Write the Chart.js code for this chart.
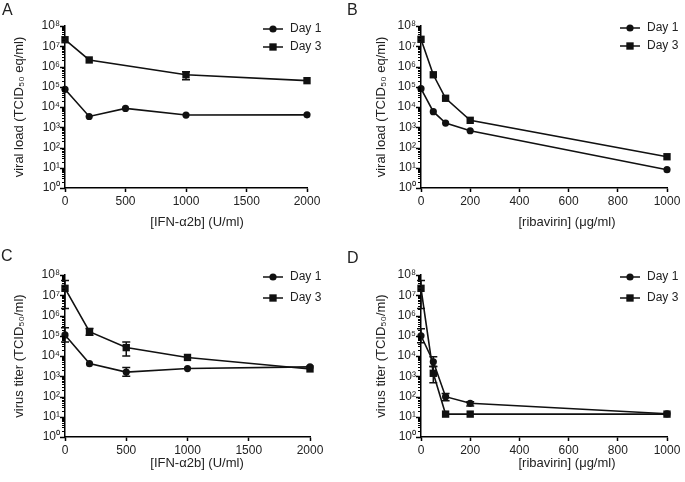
<!DOCTYPE html>
<html>
<head>
<meta charset="utf-8">
<script src="https://cdn.jsdelivr.net/npm/chart.js@4"></script>
<style>
  body { margin: 0; background: #fff; }
  #wrap { position: relative; width: 685px; height: 482px; }
  canvas { position: absolute; }
</style>
</head>
<body>
<div id="wrap">
  <canvas id="panelA" width="342" height="241" style="left:0;top:0"></canvas>
  <canvas id="panelB" width="343" height="241" style="left:342px;top:0"></canvas>
  <canvas id="panelC" width="342" height="241" style="left:0;top:241px"></canvas>
  <canvas id="panelD" width="343" height="241" style="left:342px;top:241px"></canvas>
</div>
<script>
// ---- data ----
const seriesNames = ['Day 1', 'Day 3'];
const yExponents = [0, 1, 2, 3, 4, 5, 6, 7, 8];
const ifnTicks = [0, 500, 1000, 1500, 2000];
const ribTicks = [0, 200, 400, 600, 800, 1000];

// A: viral load, IFN-a2b
const aDay1X = [0, 200, 500, 1000, 2000];
const aDay1Y = [7.5e4, 3.4e3, 8.5e3, 4.0e3, 4.1e3];
const aDay3X = [0, 200, 1000, 2000];
const aDay3Y = [2.1e7, 2.1e6, 3.9e5, 2.0e5];
const aDay3Lo = [null, null, 2.2e5, null];
const aDay3Hi = [null, null, 5.5e5, null];

// B: viral load, ribavirin
const bX = [0, 50, 100, 200, 1000];
const bDay1Y = [8.0e4, 5.9e3, 1.6e3, 6.7e2, 8];
const bDay3Y = [2.2e7, 3.9e5, 2.7e4, 2.2e3, 35];

// C: virus titer, IFN-a2b
const cX = [0, 200, 500, 1000, 2000];
const cDay1Y = [1.1e5, 4.2e3, 1.6e3, 2.4e3, 2.9e3];
const cDay1Lo = [4.9e4, null, 1.0e3, null, null];
const cDay1Hi = [2.5e5, null, 2.7e3, null, null];
const cDay3Y = [2.2e7, 1.6e5, 2.6e4, 8.5e3, 2.3e3];
const cDay3Lo = [2.2e6, 1.05e5, 1.0e4, null, null];
const cDay3Hi = [5.3e7, 2.3e5, 4.9e4, null, null];

// D: virus titer, ribavirin
const dX = [0, 50, 100, 200, 1000];
const dDay1Y = [1.0e5, 5.2e3, 98, 46, 14];
const dDay1Lo = [4.5e4, 3.0e3, 62, 34, null];
const dDay1Hi = [2.2e5, 9.3e3, 140, 55, null];
const dDay3Y = [2.2e7, 1.4e3, 13.5, 13.5, 13.5];
const dDay3Lo = [2.2e6, 4.8e2, null, null, null];
const dDay3Hi = [5.3e7, 3.0e3, null, null, null];

const FONT = '"Liberation Sans", Arial, sans-serif';
const INK = '#222';
const SUP = ['⁰', '¹', '²', '³', '⁴', '⁵', '⁶', '⁷', '⁸', '⁹'];

function isDecade(v) {
  const l = Math.log10(v);
  return Math.abs(l - Math.round(l)) < 1e-9;
}

// error bars, log-axis ticks, legend, x title and panel letter
const panelDecor = {
  id: 'panelDecor',
  afterDatasetsDraw(chart) {
    const ctx = chart.ctx;
    const xs = chart.scales.x, ys = chart.scales.y;
    ctx.save();
    ctx.strokeStyle = '#111';
    ctx.lineWidth = 1.5;
    chart.data.datasets.forEach(ds => {
      if (!ds.errLo) return;
      ds.data.forEach((p, j) => {
        if (ds.errLo[j] == null) return;
        const px = xs.getPixelForValue(p.x);
        const lo = ys.getPixelForValue(ds.errLo[j]);
        const hi = ys.getPixelForValue(ds.errHi[j]);
        ctx.beginPath();
        ctx.moveTo(px, lo); ctx.lineTo(px, hi);
        ctx.moveTo(px - 4, lo); ctx.lineTo(px + 4, lo);
        ctx.moveTo(px - 4, hi); ctx.lineTo(px + 4, hi);
        ctx.stroke();
      });
    });
    ctx.restore();
  },
  afterDraw(chart, args, opts) {
    const ctx = chart.ctx;
    const area = chart.chartArea;
    const ys = chart.scales.y;
    ctx.save();
    // ticks on the log axis: long at decades, short in between
    ctx.strokeStyle = '#000';
    ys.ticks.forEach(t => {
      const py = Math.round(ys.getPixelForValue(t.value)) + 0.5;
      const major = isDecade(t.value);
      ctx.lineWidth = major ? 1.5 : 1;
      ctx.beginPath();
      ctx.moveTo(area.left - (major ? 5 : 3), py);
      ctx.lineTo(area.left, py);
      ctx.stroke();
    });

    // legend: line with marker, then name
    chart.data.datasets.forEach((ds, i) => {
      const ly = opts.legendY + i * opts.legendGap;
      ctx.strokeStyle = ds.borderColor;
      ctx.lineWidth = 1.5;
      ctx.beginPath();
      ctx.moveTo(opts.legendX, ly);
      ctx.lineTo(opts.legendX + 20, ly);
      ctx.stroke();
      ctx.fillStyle = ds.backgroundColor;
      Chart.helpers.drawPoint(ctx, {
        pointStyle: ds.pointStyle, radius: ds.pointRadius, borderWidth: 0, rotation: 0
      }, opts.legendX + 10, ly);
      ctx.fillStyle = INK;
      ctx.font = '12px ' + FONT;
      ctx.textAlign = 'left';
      ctx.textBaseline = 'middle';
      ctx.fillText(ds.label, opts.legendX + 27, ly);
    });

    // x axis title
    ctx.fillStyle = INK;
    ctx.font = '13px ' + FONT;
    ctx.textAlign = 'center';
    ctx.textBaseline = 'middle';
    ctx.fillText(opts.xTitle, opts.xTitleX, opts.xTitleY);

    // panel letter
    ctx.font = '16px ' + FONT;
    ctx.textAlign = 'left';
    ctx.fillText(opts.letter, opts.letterX, opts.letterY);
    ctx.restore();
  }
};

function points(xs, ys) {
  return xs.map((x, i) => ({ x: x, y: ys[i] }));
}

function series(name, xs, ys, style, lo, hi) {
  return {
    label: name,
    data: points(xs, ys),
    errLo: lo, errHi: hi,
    borderColor: '#111',
    backgroundColor: '#111',
    borderWidth: 1.6,
    pointStyle: style,
    pointRadius: style === 'rect' ? 5.2 : 3.6,
    pointBorderWidth: 0,
    tension: 0,
    clip: false
  };
}

function makePanel(id, p) {
  const canvas = document.getElementById(id);
  const W = canvas.width, H = canvas.height;
  const yTicks = [];
  yExponents.forEach(e => {
    if (e === yExponents[yExponents.length - 1]) { yTicks.push(Math.pow(10, e)); return; }
    for (let m = 1; m <= 9; m++) yTicks.push(m * Math.pow(10, e));
  });

  return new Chart(canvas, {
    type: 'line',
    data: { datasets: p.datasets },
    plugins: [panelDecor],
    options: {
      responsive: false,
      animation: false,
      layout: { padding: { left: 0, top: p.area.top, right: W - p.area.right, bottom: 0 } },
      plugins: {
        legend: { display: false },
        tooltip: { enabled: false },
        panelDecor: p.decor
      },
      scales: {
        x: {
          type: 'linear',
          min: p.xTicks[0],
          max: p.xTicks[p.xTicks.length - 1],
          afterBuildTicks(s) { s.ticks = p.xTicks.map(v => ({ value: v })); },
          ticks: {
            color: INK, font: { family: FONT, size: 12 }, padding: 2, maxRotation: 0, autoSkip: false,
            callback(v) { return String(v); }
          },
          grid: { drawOnChartArea: false, drawTicks: true, tickLength: 4, tickColor: '#000', tickWidth: 1.5 },
          border: { color: '#000', width: 1.5 },
          afterFit(s) { s.height = H - p.area.bottom; }
        },
        y: {
          type: 'logarithmic',
          min: 1,
          max: 1e8,
          afterBuildTicks(s) { s.ticks = yTicks.map(v => ({ value: v })); },
          ticks: {
            autoSkip: false,
            padding: 5,
            color: INK,
            font: { family: FONT, size: 12 },
            callback(v) {
              return isDecade(v) ? '10' + SUP[Math.round(Math.log10(v))] : '';
            }
          },
          grid: { drawOnChartArea: false, drawTicks: false },
          border: { color: '#000', width: 1.5 },
          title: {
            display: true,
            text: p.yTitle,
            color: INK,
            font: { family: FONT, size: 13 },
            padding: { top: p.yTitlePad, bottom: 0 }
          },
          afterFit(s) { s.width = p.area.left; }
        }
      }
    }
  });
}

makePanel('panelA', {
  area: { left: 65, right: 307, top: 26, bottom: 188 },
  xTicks: ifnTicks,
  yTitle: 'viral load (TCID₅₀ eq/ml)',
  yTitlePad: 12,
  datasets: [
    series(seriesNames[0], aDay1X, aDay1Y, 'circle'),
    series(seriesNames[1], aDay3X, aDay3Y, 'rect', aDay3Lo, aDay3Hi)
  ],
  decor: { legendX: 263, legendY: 29, legendGap: 18, xTitle: '[IFN-α2b] (U/ml)', xTitleX: 197, xTitleY: 222, letter: 'A', letterX: 2, letterY: 11 }
});

makePanel('panelB', {
  area: { left: 79, right: 325, top: 26, bottom: 188 },
  xTicks: ribTicks,
  yTitle: 'viral load (TCID₅₀ eq/ml)',
  yTitlePad: 32,
  datasets: [
    series(seriesNames[0], bX, bDay1Y, 'circle'),
    series(seriesNames[1], bX, bDay3Y, 'rect')
  ],
  decor: { legendX: 278, legendY: 28, legendGap: 18, xTitle: '[ribavirin] (μg/ml)', xTitleX: 225, xTitleY: 222, letter: 'B', letterX: 5, letterY: 11 }
});

makePanel('panelC', {
  area: { left: 65, right: 310, top: 34, bottom: 196 },
  xTicks: ifnTicks,
  yTitle: 'virus titer (TCID₅₀/ml)',
  yTitlePad: 12,
  datasets: [
    series(seriesNames[0], cX, cDay1Y, 'circle', cDay1Lo, cDay1Hi),
    series(seriesNames[1], cX, cDay3Y, 'rect', cDay3Lo, cDay3Hi)
  ],
  decor: { legendX: 263, legendY: 36, legendGap: 21, xTitle: '[IFN-α2b] (U/ml)', xTitleX: 197, xTitleY: 222, letter: 'C', letterX: 1, letterY: 16 }
});

makePanel('panelD', {
  area: { left: 79, right: 325, top: 34, bottom: 196 },
  xTicks: ribTicks,
  yTitle: 'virus titer (TCID₅₀/ml)',
  yTitlePad: 32,
  datasets: [
    series(seriesNames[0], dX, dDay1Y, 'circle', dDay1Lo, dDay1Hi),
    series(seriesNames[1], dX, dDay3Y, 'rect', dDay3Lo, dDay3Hi)
  ],
  decor: { legendX: 278, legendY: 36, legendGap: 21, xTitle: '[ribavirin] (μg/ml)', xTitleX: 225, xTitleY: 222, letter: 'D', letterX: 5, letterY: 18 }
});
</script>
</body>
</html>
